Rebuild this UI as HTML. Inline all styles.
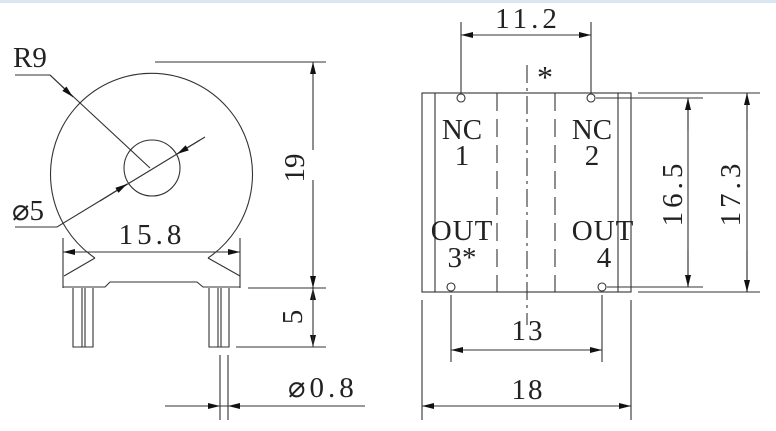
<!DOCTYPE html>
<html><head><style>
body{margin:0;background:#fff;}
svg{display:block;}
</style></head><body>
<svg width="776" height="431" viewBox="0 0 776 431" xmlns="http://www.w3.org/2000/svg">
<defs>
<marker id="a" viewBox="0 0 12 6" refX="12" refY="3" markerWidth="12" markerHeight="6" markerUnits="userSpaceOnUse" orient="auto"><path d="M0,0L12,3L0,6z" fill="#111"/></marker>
</defs>
<rect x="0" y="0" width="776" height="3" fill="#dbe6f3"/>
<g stroke="#333" stroke-width="1.1" fill="none">
<path d="M95,258 A101,101 0 1 1 208,258"/>
<circle cx="152" cy="168" r="28"/>
<path d="M63,238V288M240,238V288"/>
<path d="M95,258L64,276M208,258L240,276"/>
<path d="M63,287H105L110,282H197L203,287H240"/>
<path d="M73,288V347H93V288M82,288V347M85,288V347"/>
<path d="M209,288V347H229V288M218,288V347M221,288V347"/>
<path d="M63,252H240" />
<path d="M100,252H63" marker-end="url(#a)"/>
<path d="M200,252H240" marker-end="url(#a)"/>
<path d="M155,62H326M248,288H326M236,347H326"/>
<path d="M313,150V62" marker-end="url(#a)"/>
<path d="M313,180V288" marker-end="url(#a)"/>
<path d="M313,300V288" marker-end="url(#a)"/>
<path d="M313,335V347" marker-end="url(#a)"/>
<path d="M313,288V347"/>
<path d="M220,355V420M228,355V420M165,406H365"/>
<path d="M190,406H220" marker-end="url(#a)"/>
<path d="M258,406H228" marker-end="url(#a)"/>
<path d="M15,75H50L150,168"/>
<path d="M50,75L73,97" marker-end="url(#a)"/>
<path d="M15,227H57L205,137"/>
<path d="M100,201L127,184" marker-end="url(#a)"/>
<path d="M200,140L177,154" marker-end="url(#a)"/>
<rect x="422" y="93" width="209" height="199"/>
<path d="M435,93V292M618,93V292"/>
<path d="M497,93V292M555,93V292" stroke-dasharray="18,8"/>
<path d="M527,65V325" stroke-dasharray="18,5,3,5"/>
<circle cx="461" cy="98" r="4"/><circle cx="591" cy="98" r="4"/>
<circle cx="451" cy="287" r="4"/><circle cx="602" cy="287" r="4"/>
<path d="M461,22V93M591,22V93M461,35H591"/>
<path d="M490,35H461" marker-end="url(#a)"/>
<path d="M560,35H591" marker-end="url(#a)"/>
<path d="M596,98H703M607,287H703M638,93H760M638,292H760"/>
<path d="M688,98V287M747,93V292"/>
<path d="M688,130V98" marker-end="url(#a)"/>
<path d="M688,250V287" marker-end="url(#a)"/>
<path d="M747,130V93" marker-end="url(#a)"/>
<path d="M747,250V292" marker-end="url(#a)"/>
<path d="M451,295V362M602,295V362M451,350H602"/>
<path d="M480,350H451" marker-end="url(#a)"/>
<path d="M570,350H602" marker-end="url(#a)"/>
<path d="M422,300V420M631,300V420M422,406H631"/>
<path d="M450,406H422" marker-end="url(#a)"/>
<path d="M600,406H631" marker-end="url(#a)"/>
</g>
<g font-size="29" font-family="Liberation Serif, serif" fill="#222">
<text x="13" y="67">R9</text>
<text x="12" y="220">⌀5</text>
<text x="152" y="244" text-anchor="middle" letter-spacing="4">15.8</text>
<text transform="translate(304,168) rotate(-90)" text-anchor="middle">19</text>
<text transform="translate(302,317) rotate(-90)" text-anchor="middle">5</text>
<text x="288" y="397" letter-spacing="4">⌀0.8</text>
<text x="528" y="28" text-anchor="middle" letter-spacing="4">11.2</text>
<text x="545" y="88" text-anchor="middle" font-size="32">*</text>
<text x="462" y="139" text-anchor="middle">NC</text>
<text x="462" y="165" text-anchor="middle">1</text>
<text x="592" y="139" text-anchor="middle">NC</text>
<text x="592" y="165" text-anchor="middle">2</text>
<text x="462" y="240" text-anchor="middle" letter-spacing="1">OUT</text>
<text x="462" y="267" text-anchor="middle">3*</text>
<text x="603" y="240" text-anchor="middle" letter-spacing="1">OUT</text>
<text x="604" y="267" text-anchor="middle">4</text>
<text transform="translate(682,193) rotate(-90)" text-anchor="middle" letter-spacing="4">16.5</text>
<text transform="translate(740,193) rotate(-90)" text-anchor="middle" letter-spacing="4">17.3</text>
<text x="528" y="340" text-anchor="middle" letter-spacing="2">13</text>
<text x="528" y="399" text-anchor="middle" letter-spacing="2">18</text>
</g>
</svg>
</body></html>
